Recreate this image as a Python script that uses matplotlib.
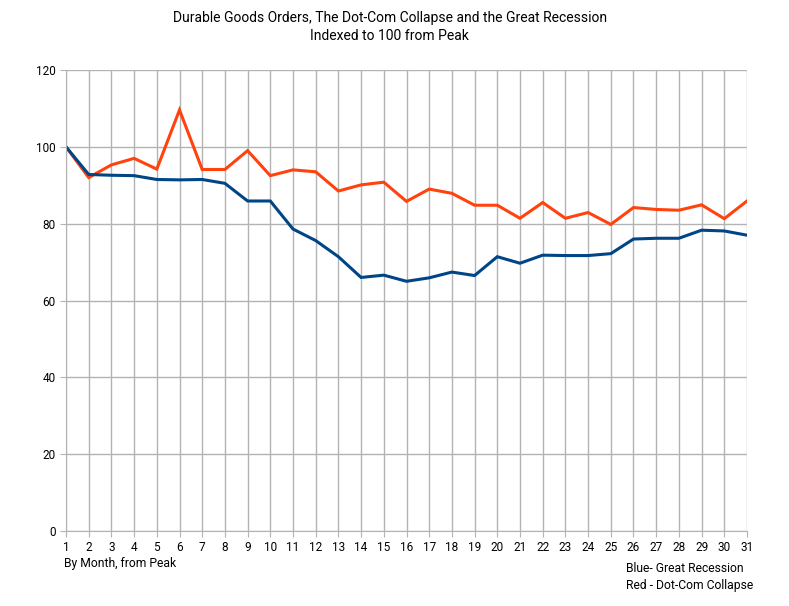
import matplotlib.pyplot as plt

plt.rcParams["font.family"] = ["Roboto", "DejaVu Sans"]

months = list(range(1, 32))

# Great Recession, indexed to 100 at peak
great_recession = [100, 92.8, 92.6, 92.5, 91.5, 91.4, 91.5, 90.5, 85.9, 85.9,
                   78.6, 75.6, 71.4, 66.0, 66.6, 65.0, 65.9, 67.4, 66.5, 71.4,
                   69.7, 71.8, 71.7, 71.7, 72.2, 76.0, 76.2, 76.2, 78.3, 78.1,
                   77.0]

# Dot-com collapse, indexed to 100 at peak
dot_com = [100, 92.0, 95.3, 97.0, 94.2, 109.6, 94.1, 94.1, 99.0, 92.5,
           94.0, 93.5, 88.5, 90.1, 90.8, 85.8, 89.0, 87.9, 84.8, 84.8,
           81.4, 85.5, 81.4, 82.9, 79.8, 84.2, 83.7, 83.5, 84.9, 81.3,
           85.9]

fig = plt.figure(figsize=(7.89, 6.06), dpi=100)
ax = fig.add_axes([66 / 789, 1 - 531 / 606, (747 - 66) / 789, (531 - 70) / 606])

ax.plot(months, dot_com, color="#ff420e", linewidth=2.2, solid_joinstyle="miter")
ax.plot(months, great_recession, color="#004586", linewidth=2.2, solid_joinstyle="miter")

ax.set_xlim(1, 31)
ax.set_ylim(0, 120)
ax.set_xticks(months)
ax.set_yticks(range(0, 121, 20))
ax.grid(True, color="#b3b3b3", linewidth=1)
ax.set_axisbelow(True)
for side in ["top", "right"]:
    ax.spines[side].set_visible(False)
for side in ["left", "bottom"]:
    ax.spines[side].set_color("#b3b3b3")
ax.tick_params(colors="#b3b3b3", labelcolor="black", labelsize=8.5, length=4)

fig.text(0.494, 1 - 27 / 606, "Durable Goods Orders, The Dot-Com Collapse and the Great Recession\nIndexed to 100 from Peak",
         ha="center", va="center", fontsize=10, linespacing=1.3)
fig.text(64 / 789, 1 - 563 / 606, "By Month, from Peak", ha="left", va="center", fontsize=8.7)
fig.text(626 / 789, 1 - 577 / 606, "Blue- Great Recession\nRed - Dot-Com Collapse",
         ha="left", va="center", fontsize=8.7, linespacing=1.3)

fig.savefig("out.png", dpi=100, facecolor="white")
